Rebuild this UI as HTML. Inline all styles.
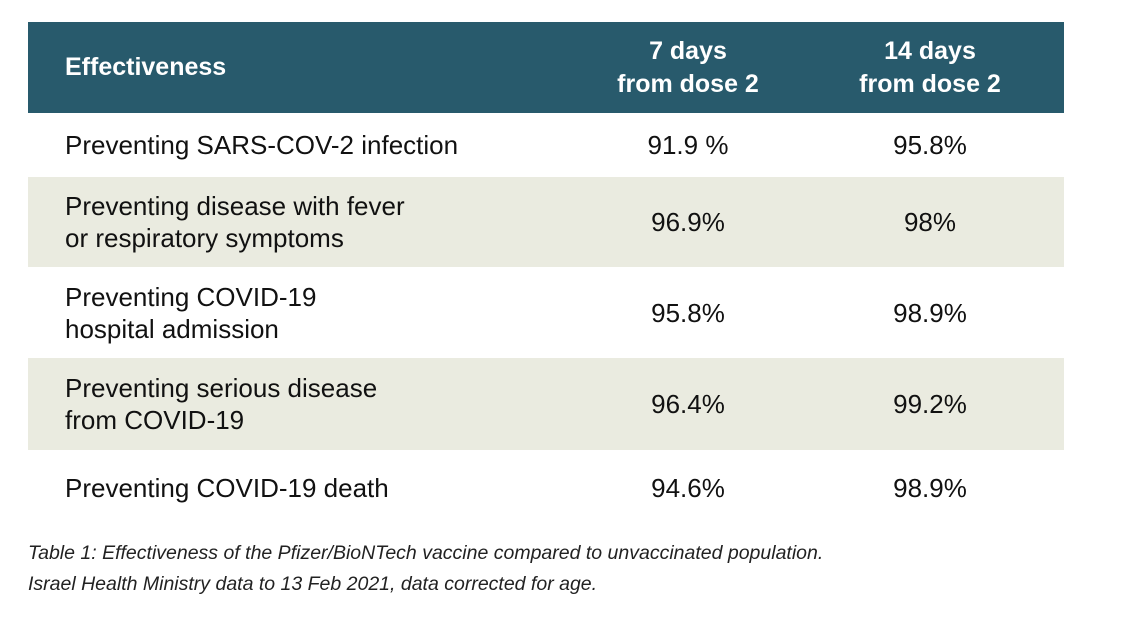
<!DOCTYPE html>
<html><head><meta charset="utf-8"><style>
body{margin:0;width:1122px;height:640px;background:#fff;font-family:"Liberation Sans",Arial,sans-serif;position:relative;overflow:hidden}
.hdr{position:absolute;left:28px;top:22px;width:1036px;height:91px;background:#285a6c}
.row{position:absolute;left:28px;width:1036px}
.shade{background:#eaebe0}
.cell{position:absolute;display:flex;align-items:center;height:100%;top:0;font-size:26px;color:#111;line-height:32px}
.lab{left:37px}
.c1{left:560px;width:200px;justify-content:center}
.c2{left:802px;width:200px;justify-content:center}
.h{color:#fff;font-weight:bold;font-size:25px;line-height:33px;text-align:center}
.cap{position:absolute;left:28px;top:538px;font-style:italic;font-size:19.5px;line-height:31px;color:#222}
</style></head><body>
<div class="hdr">
 <div class="cell lab h" style="text-align:left">Effectiveness</div>
 <div class="cell c1 h">7 days<br>from dose 2</div>
 <div class="cell c2 h">14 days<br>from dose 2</div>
</div>
<div class="row" style="top:113px;height:64px">
 <div class="cell lab">Preventing SARS-COV-2 infection</div><div class="cell c1">91.9 %</div><div class="cell c2">95.8%</div></div>
<div class="row shade" style="top:177px;height:90px">
 <div class="cell lab">Preventing disease with fever<br>or respiratory symptoms</div><div class="cell c1">96.9%</div><div class="cell c2">98%</div></div>
<div class="row" style="top:267px;height:91px">
 <div class="cell lab">Preventing COVID-19<br>hospital admission</div><div class="cell c1">95.8%</div><div class="cell c2">98.9%</div></div>
<div class="row shade" style="top:358px;height:92px">
 <div class="cell lab">Preventing serious disease<br>from COVID-19</div><div class="cell c1">96.4%</div><div class="cell c2">99.2%</div></div>
<div class="row" style="top:450px;height:76px">
 <div class="cell lab">Preventing COVID-19 death</div><div class="cell c1">94.6%</div><div class="cell c2">98.9%</div></div>
<div class="cap">Table 1: Effectiveness of the Pfizer/BioNTech vaccine compared to unvaccinated population.<br>Israel Health Ministry data to 13 Feb 2021, data corrected for age.</div>
</body></html>
